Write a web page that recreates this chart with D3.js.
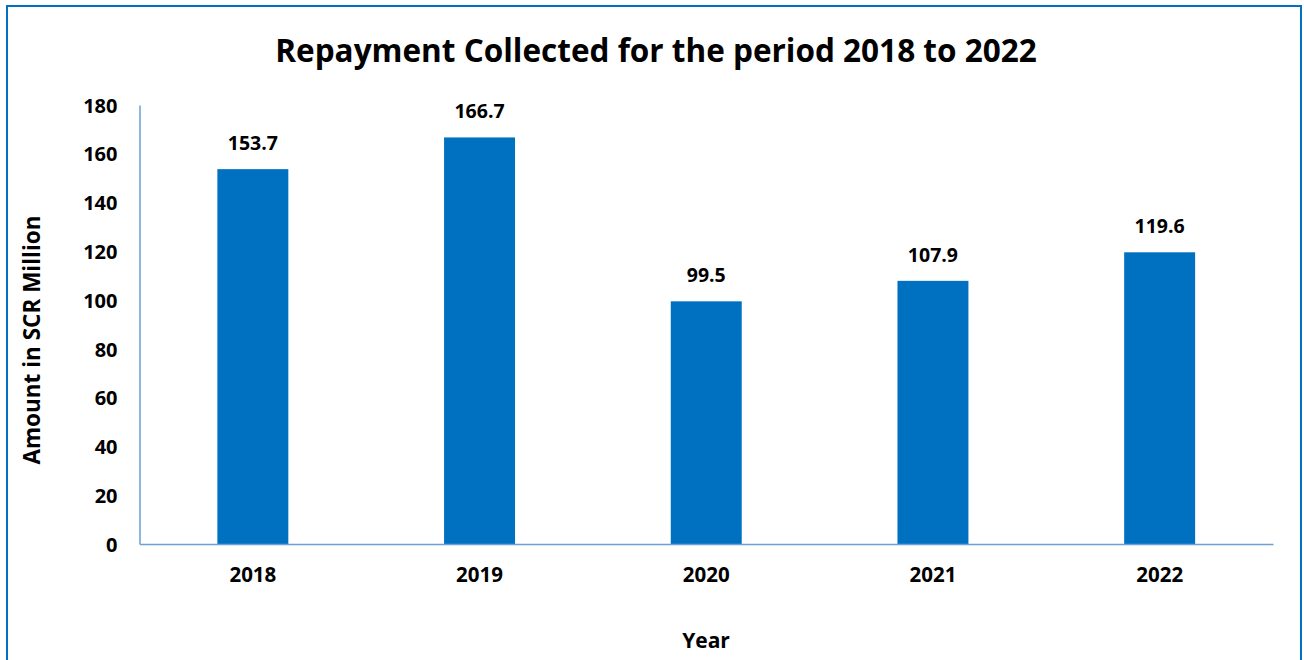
<!DOCTYPE html>
<html>
<head>
<meta charset="utf-8">
<script src="https://cdn.jsdelivr.net/npm/d3@7"></script>
<style>
  html, body { margin: 0; padding: 0; background: #fff; }
  svg { display: block; }
  text { font-family: "Open Sans", Lato, sans-serif; font-weight: 700; fill: #000; }
</style>
</head>
<body>
<svg id="chart" width="1304" height="660"></svg>
<script>
// Repayment collected per year (SCR million)
const years = ["2018", "2019", "2020", "2021", "2022"];
const repayments = [153.7, 166.7, 99.5, 107.9, 119.6];
const yTicks = [0, 20, 40, 60, 80, 100, 120, 140, 160, 180];

const titleText = "Repayment Collected for the period 2018 to 2022";
const xTitle = "Year";
const yTitle = "Amount in SCR Million";

const svg = d3.select("#chart");
const plot = { left: 139.5, right: 1273, top: 105, bottom: 544 };
const barColor = "#0070C0";
const axisColor = "#6A9FD8";
const font = "'Open Sans', Lato, sans-serif";

// outer frame
svg.append("rect")
  .attr("x", 7).attr("y", 6)
  .attr("width", 1294).attr("height", 700)
  .attr("fill", "none")
  .attr("stroke", "#0070C0")
  .attr("stroke-width", 2);

const x = d3.scaleBand()
  .domain(years)
  .range([plot.left, plot.right])
  .paddingInner(0.687)
  .paddingOuter(0.3435);

const y = d3.scaleLinear()
  .domain([0, 180])
  .range([plot.bottom, plot.top]);

const rows = years.map((yr, i) => ({ yr, v: repayments[i] }));

// bars
svg.append("g").selectAll("rect")
  .data(rows)
  .join("rect")
  .attr("x", d => x(d.yr))
  .attr("y", d => y(d.v))
  .attr("width", x.bandwidth())
  .attr("height", d => y(0) - y(d.v))
  .attr("fill", barColor);

// value labels
svg.append("g").selectAll("text")
  .data(rows)
  .join("text")
  .attr("x", d => x(d.yr) + x.bandwidth() / 2)
  .attr("y", d => y(d.v) - 19)
  .attr("text-anchor", "middle")
  .style("font-size", "19.5px")
  .text(d => d.v.toFixed(1));

// y axis
const yAxis = d3.axisLeft(y).tickValues(yTicks).tickSize(0).tickPadding(22);
const gy = svg.append("g")
  .attr("transform", `translate(${plot.left},0)`)
  .call(yAxis);
gy.select(".domain").attr("stroke", axisColor).attr("stroke-width", 1.5);
gy.selectAll("text")
  .style("font-size", "20px")
  .style("font-family", font)
  .style("font-weight", 700)
  .attr("dy", "0.36em");

// x axis
const xAxis = d3.axisBottom(x).tickSize(0).tickPadding(23).tickSizeOuter(0);
const gx = svg.append("g")
  .attr("transform", `translate(0,${plot.bottom})`)
  .call(xAxis);
gx.select(".domain").attr("stroke", axisColor).attr("stroke-width", 1.5);
gx.selectAll("text")
  .style("font-size", "20.5px")
  .style("font-family", font)
  .style("font-weight", 700);

// title
svg.append("text")
  .attr("x", 656).attr("y", 62)
  .attr("text-anchor", "middle")
  .style("font-size", "31.5px")
  .text(titleText);

// axis titles
svg.append("text")
  .attr("x", 706).attr("y", 648)
  .attr("text-anchor", "middle")
  .style("font-size", "21px")
  .text(xTitle);

svg.append("text")
  .attr("transform", "translate(40,340) rotate(-90)")
  .attr("text-anchor", "middle")
  .style("font-size", "22.5px")
  .text(yTitle);
</script>
</body>
</html>
